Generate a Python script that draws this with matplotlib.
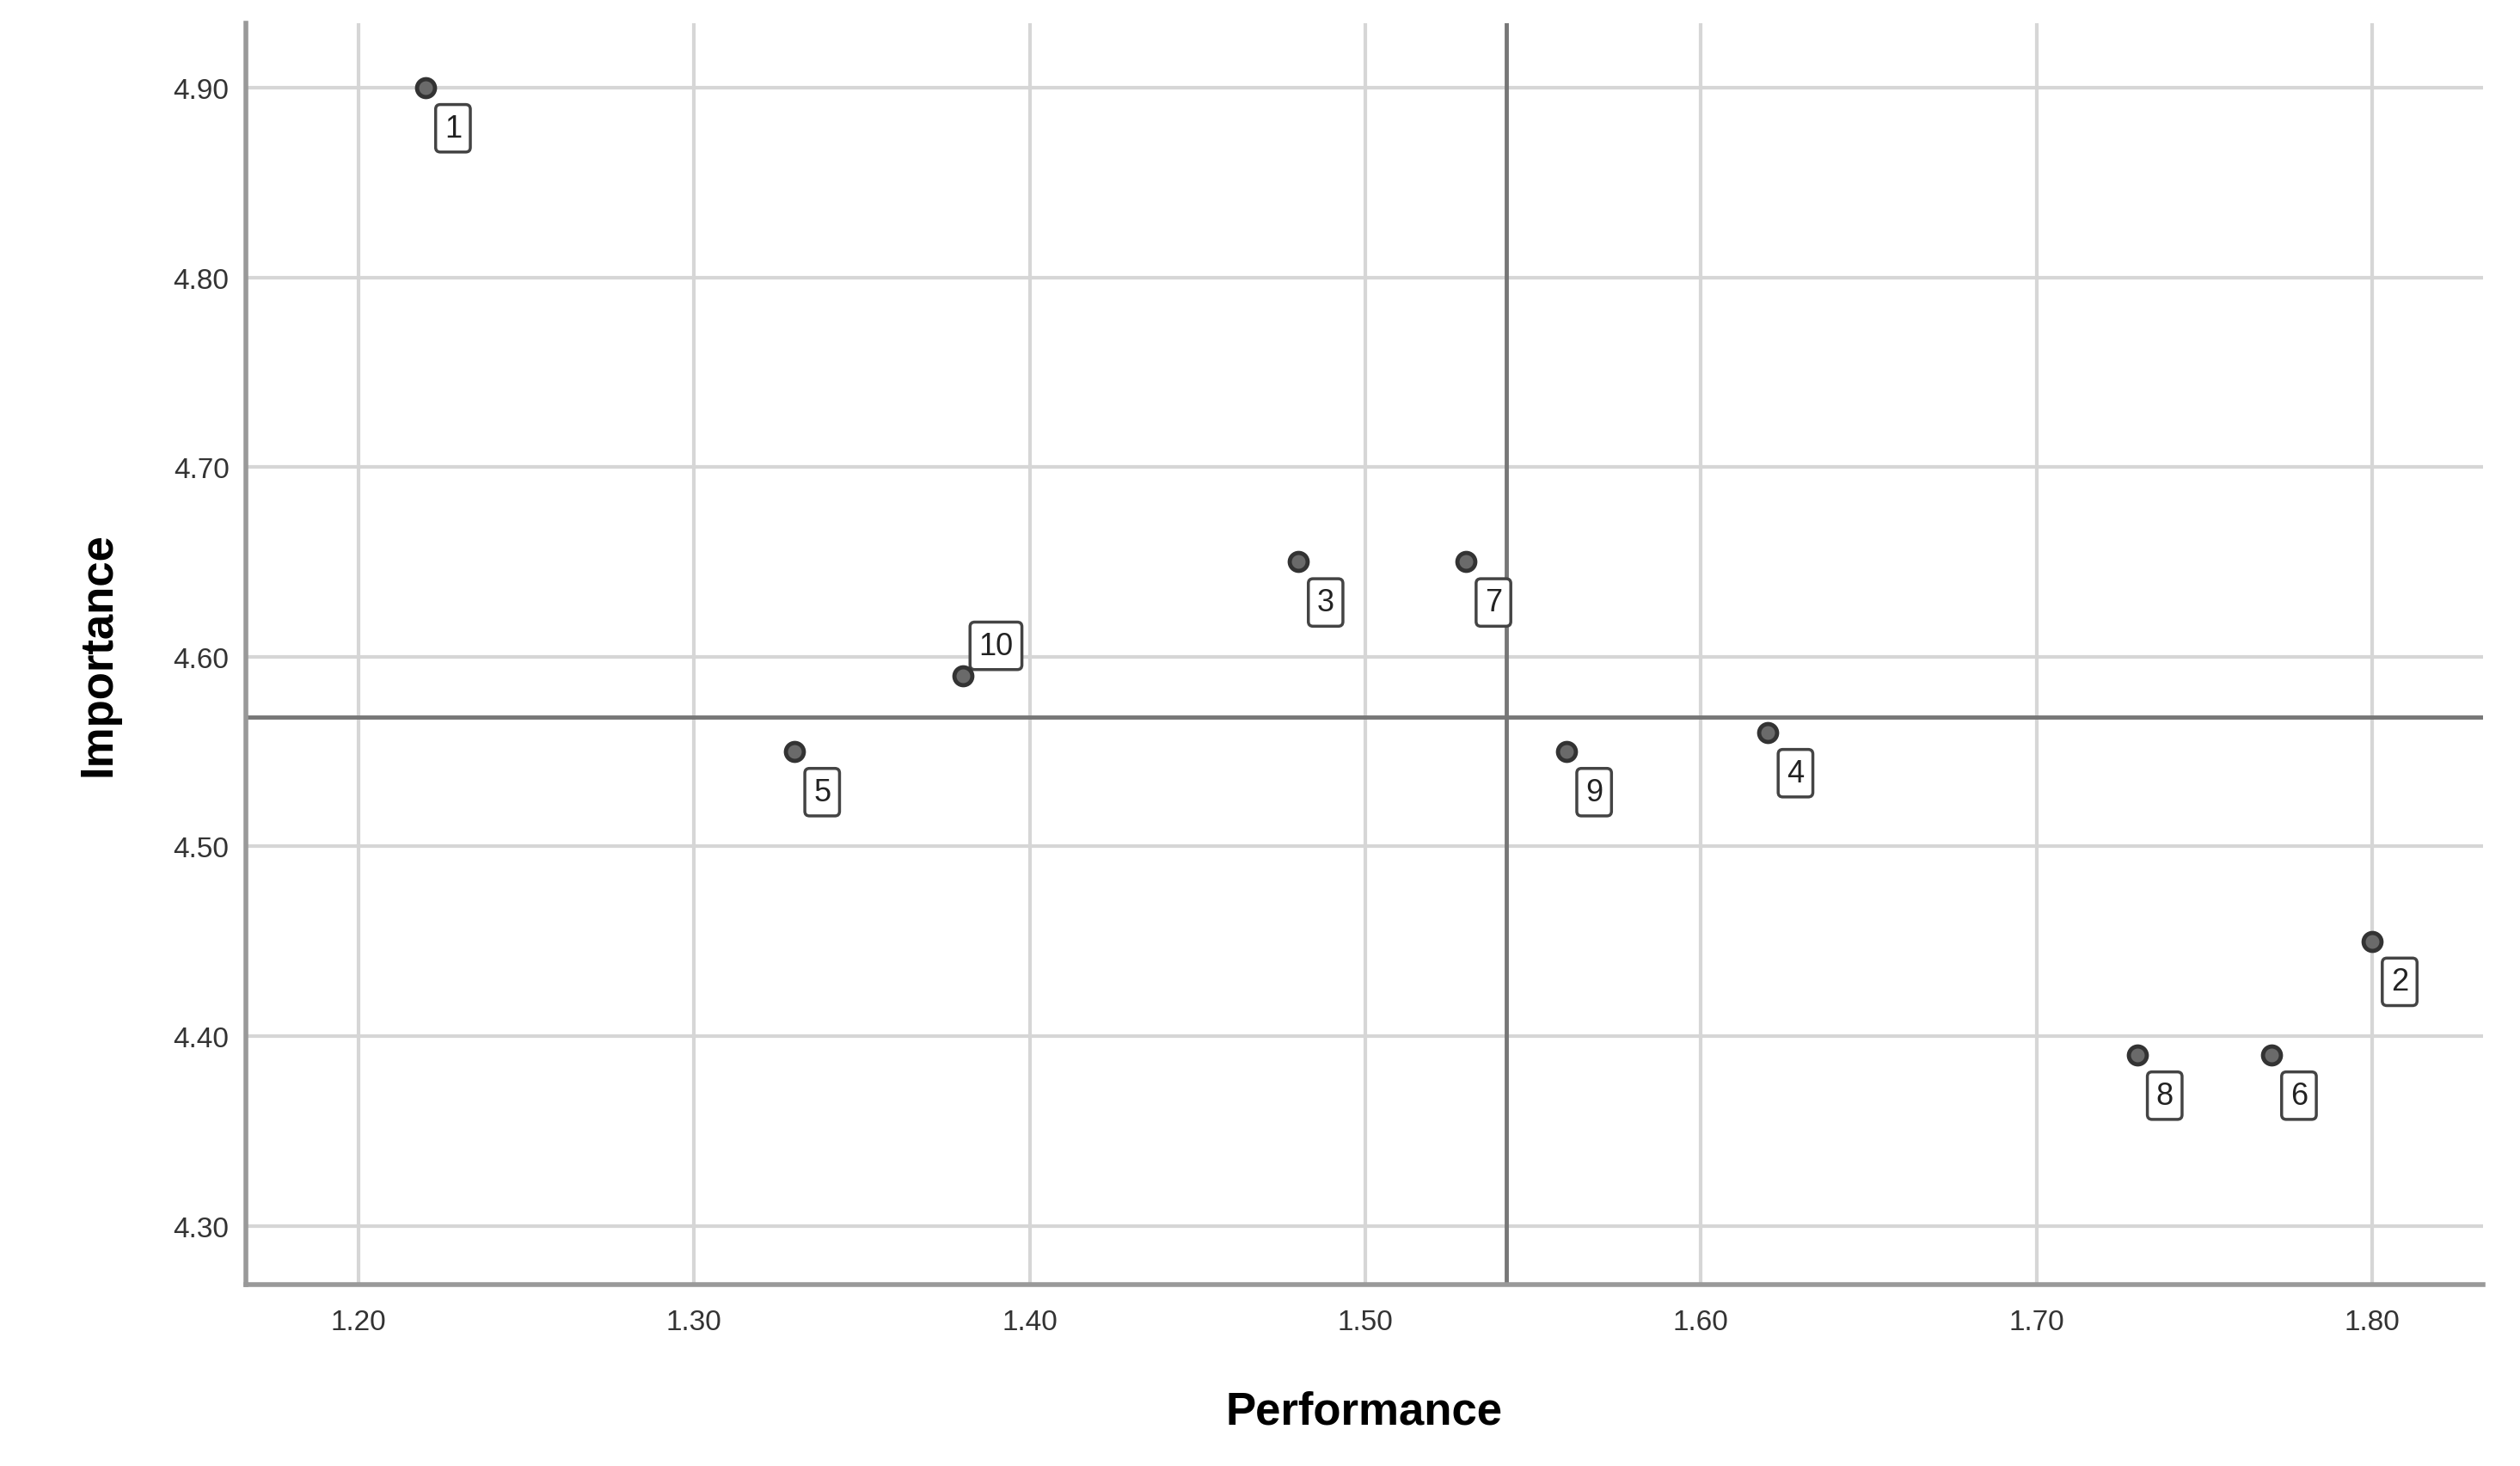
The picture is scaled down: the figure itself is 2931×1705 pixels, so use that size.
import numpy as np
import matplotlib
matplotlib.use("Agg")
import matplotlib.pyplot as plt

# attribute numbers with their performance / importance scores
ids = ["1", "2", "3", "4", "5", "6", "7", "8", "9", "10"]
performance = [1.22, 1.80, 1.48, 1.62, 1.33, 1.77, 1.53, 1.73, 1.56, 1.38]
importance = [4.90, 4.45, 4.65, 4.56, 4.55, 4.39, 4.65, 4.39, 4.55, 4.59]

x_ticks = [1.20, 1.30, 1.40, 1.50, 1.60, 1.70, 1.80]
y_ticks = [4.30, 4.40, 4.50, 4.60, 4.70, 4.80, 4.90]

plt.rcParams['font.family'] = ['Liberation Sans', 'DejaVu Sans']

fig = plt.figure(figsize=(29.31, 17.06), dpi=100)
ax = fig.add_axes([0.0976, 0.1237, 0.8877, 0.8599])

ax.set_xlim(1.1665, 1.833)
ax.set_ylim(4.269, 4.934)
ax.set_xticks(x_ticks)
ax.set_yticks(y_ticks)
ax.set_xticklabels(["%.2f" % v for v in x_ticks])
ax.set_yticklabels(["%.2f" % v for v in y_ticks])
ax.tick_params(axis='x', length=0, pad=20, labelsize=24, colors='#333333')
ax.tick_params(axis='y', length=0, pad=14, labelsize=24, colors='#333333')

ax.grid(True, color='#d6d6d6', linewidth=3)
ax.set_axisbelow(True)
for s in ['top', 'right']:
    ax.spines[s].set_visible(False)
for s in ['left', 'bottom']:
    ax.spines[s].set_color('#999999')
    ax.spines[s].set_linewidth(4)

# mean reference lines
ax.axvline(np.mean(performance), color='#777777', linewidth=3.5)
ax.axhline(np.mean(importance), color='#777777', linewidth=3.5)

ax.plot(performance, importance, 'o', markersize=15, markerfacecolor='#6a6a6a',
        markeredgecolor='#333333', markeredgewidth=3.5, zorder=5)

for lab, px, py in zip(ids, performance, importance):
    if lab == "10":
        ax.annotate(lab, (px, py), xytext=(28, 25), textcoords='offset points',
                    ha='center', va='center', fontsize=26, color='#222222',
                    bbox=dict(boxstyle='round,pad=0.28,rounding_size=0.15', fc='white',
                              ec='#444444', lw=2.5),
                    arrowprops=dict(arrowstyle='-', color='#444444', lw=2.5,
                                    shrinkA=0, shrinkB=0))
    else:
        ax.annotate(lab, (px, py), xytext=(23, -34), textcoords='offset points',
                    ha='center', va='center', fontsize=26, color='#222222',
                    bbox=dict(boxstyle='round,pad=0.28,rounding_size=0.15', fc='white',
                              ec='#444444', lw=2.5))

ax.set_xlabel("Performance", fontsize=38, fontweight='bold', labelpad=46)
ax.set_ylabel("Importance", fontsize=38, fontweight='bold', labelpad=45)

fig.savefig("out.png", dpi=100)
